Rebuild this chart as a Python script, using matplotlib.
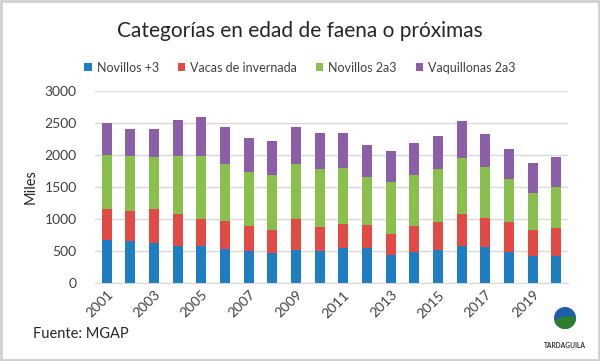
import numpy as np
import matplotlib
matplotlib.use('Agg')
import matplotlib.pyplot as plt
from matplotlib.patches import Ellipse, Rectangle

plt.rcParams['font.family'] = ['Lato', 'DejaVu Sans']

anios = list(range(2001, 2021))
# acumulados (tope de cada tramo)
tope_novillos3 = [675, 664, 623, 586, 571, 524, 493, 467, 514, 493,
                  540, 540, 436, 477, 514, 576, 560, 477, 415, 415]
tope_vacas = [1152, 1126, 1152, 1074, 1002, 976, 893, 836, 1002, 877,
              924, 913, 773, 887, 950, 1074, 1012, 960, 825, 867]
tope_nov2a3 = [1998, 1983, 1967, 1983, 1983, 1858, 1739, 1682, 1858, 1775,
               1796, 1661, 1573, 1682, 1775, 1957, 1806, 1624, 1412, 1500]
tope_vaq2a3 = [2502, 2403, 2403, 2543, 2590, 2439, 2258, 2216, 2439, 2341,
               2351, 2154, 2066, 2180, 2289, 2528, 2330, 2092, 1868, 1967]

novillos3 = np.array(tope_novillos3)
vacas = np.array(tope_vacas) - np.array(tope_novillos3)
nov2a3 = np.array(tope_nov2a3) - np.array(tope_vacas)
vaq2a3 = np.array(tope_vaq2a3) - np.array(tope_nov2a3)

series = [
    ('Novillos +3', novillos3, '#1f7ec2'),
    ('Vacas de invernada', vacas, '#e04b45'),
    ('Novillos 2a3', nov2a3, '#8bbf4d'),
    ('Vaquillonas 2a3', vaq2a3, '#8a5fa8'),
]

fig = plt.figure(figsize=(6, 3.61), dpi=100)
ax = fig.add_axes([0.158, 0.216, 0.789, 0.532])

x = np.arange(len(anios))
base = np.zeros(len(anios))
for nombre, vals, color in series:
    ax.bar(x, vals, 0.42, bottom=base, color=color, label=nombre, zorder=3)
    base = base + vals

ax.set_xlim(-0.5, len(anios) - 0.5)
ax.set_ylim(0, 3000)
ax.set_yticks(range(0, 3001, 500))
ax.yaxis.grid(True, color='#d9d9d9', linewidth=1, zorder=0)
for s in ['top', 'right', 'left']:
    ax.spines[s].set_visible(False)
ax.spines['bottom'].set_color('#d9d9d9')
ax.tick_params(axis='both', length=0, labelsize=10, colors='#404040')
ax.tick_params(axis='y', pad=13)
ax.set_xticks(x[::2])
ax.set_xticklabels([str(a) for a in anios[::2]], rotation=45, ha='right',
                   rotation_mode='anchor')
ax.tick_params(axis='x', pad=4)
ax.set_ylabel('Miles', fontsize=10.5, color='#262626', labelpad=5)

fig.text(0.5, 0.915, 'Categorías en edad de faena o próximas', ha='center',
         va='center', fontsize=15, color='#262626')
ax.legend(loc='center', bbox_to_anchor=(0.5, 0.812), bbox_transform=fig.transFigure,
          ncol=4, frameon=False, fontsize=9, handlelength=0.6, handleheight=0.6,
          columnspacing=1.5, handletextpad=0.4, labelcolor='#404040')

fig.text(0.055, 0.075, 'Fuente: MGAP', fontsize=10.5, color='#262626', va='center')

# logo aproximado
lx, ly = 565 / 600, 1 - 318 / 361
rw, rh = 22 / 600, 22 / 361
cielo = Ellipse((lx, ly), rw, rh, transform=fig.transFigure,
                facecolor='#1d5fa8', edgecolor='none')
fig.patches.append(cielo)
loma = Ellipse((lx + 0.004, ly - 0.035), rw * 1.6, rh * 1.3,
               transform=fig.transFigure, facecolor='#2f7d2f', edgecolor='none')
fig.patches.append(loma)
loma.set_clip_path(cielo)
fig.text(lx, 1 - 345 / 361, 'TARDAGUILA', ha='center', va='center', fontsize=4.8,
         fontweight='bold', color='#333333')

# marco gris
fig.patches.append(Rectangle((0.002, 0.003), 0.996, 0.994, transform=fig.transFigure,
                             fill=False, edgecolor='#d0d0d0', linewidth=2))

fig.savefig('out.png', dpi=100, facecolor='white')
